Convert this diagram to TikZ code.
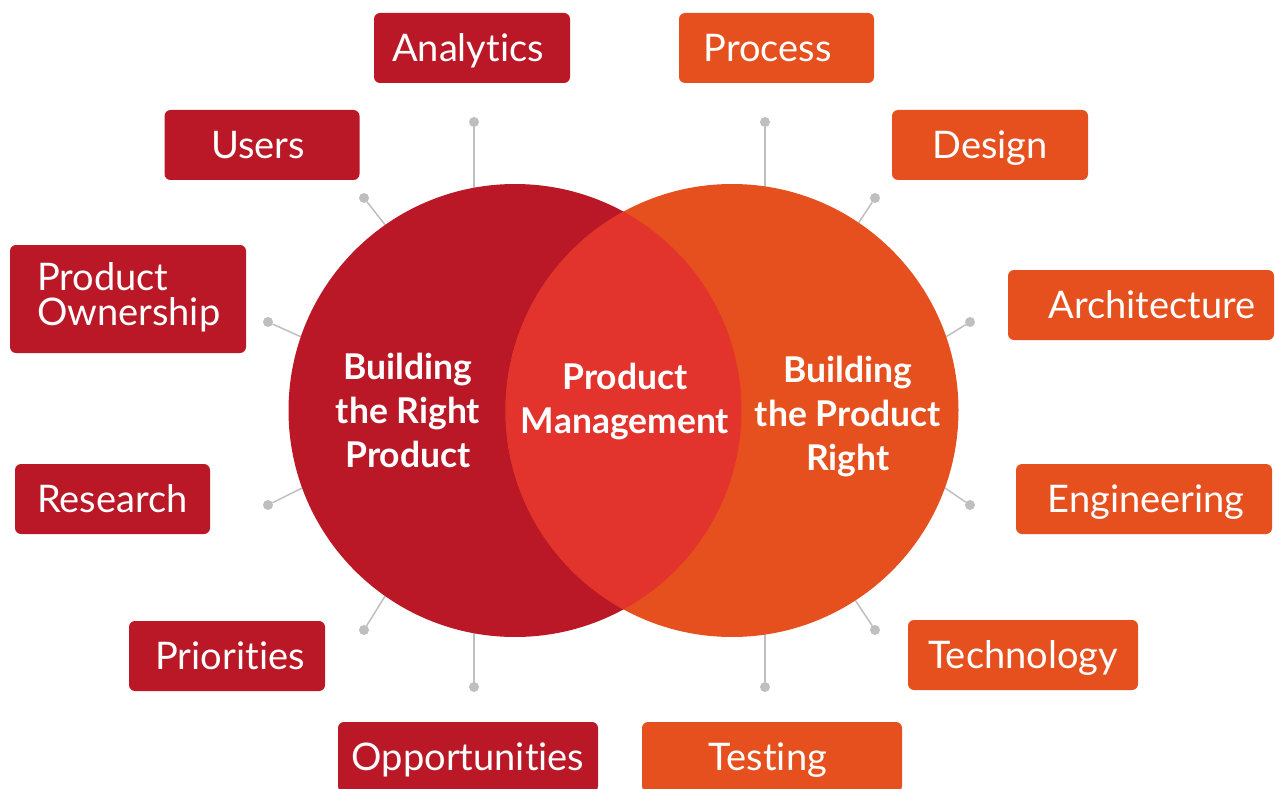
\documentclass[tikz,border=0pt]{standalone}
\usepackage{fontspec}
\setmainfont{Lato}[Ligatures=NoCommon]
\definecolor{leftred}{HTML}{BA1826}
\definecolor{rightorange}{HTML}{E6501E}
\definecolor{overlapred}{HTML}{E2332C}
\definecolor{spokegray}{HTML}{BFBFBF}
\tikzset{
    every node/.style={inner sep=0pt, outer sep=0pt, text=white}
}
\tikzset{
    every edge/.append style={line width=1.5pt, draw=spokegray}
}
\tikzset{
    tag/.style={rectangle, rounded corners=6pt, minimum height=70pt,
    	font=\fontsize{38}{35}\selectfont, text height=27pt, text depth=0pt},
    disc/.style={circle, minimum size=453pt},
    hub/.style={align=center, font=\fontsize{35.5}{44}\selectfont\bfseries},
    dot/.style={circle, fill=spokegray, minimum size=10pt}
}

\begin{document}
\begin{tikzpicture}[x=1pt, y=-1pt]
  \useasboundingbox (0,0) rectangle (1275,789);

  \node (l1) [dot] at (474,122) {};
  \node (l2) [dot] at (364,198) {};
  \node (l3) [dot] at (268,322) {};
  \node (l4) [dot] at (268,505) {};
  \node (l5) [dot] at (364,630) {};
  \node (l6) [dot] at (474,687) {};
  \node (r1) [dot] at (765,122) {};
  \node (r2) [dot] at (875,198) {};
  \node (r3) [dot] at (970,322) {};
  \node (r4) [dot] at (970,505) {};
  \node (r5) [dot] at (875,630) {};
  \node (r6) [dot] at (765,687) {};

  \node (L) [disc] at (515,410.5) {};
  \node (R) [disc] at (732,410.5) {};

  \draw (l1) edge (l1 |- L.center);
  \draw (l2) edge (L.125.6);
  \draw (l3) edge (L.161.3);
  \draw (l4) edge (L.200.2);
  \draw (l5) edge (L.235.5);
  \draw (l6) edge (l6 |- L.center);
  \draw (r1) edge (r1 |- R.center);
  \draw (r2) edge (R.56.2);
  \draw (r3) edge (R.19.8);
  \draw (r4) edge (R.-20.9);
  \draw (r5) edge (R.-57.1);
  \draw (r6) edge (r6 |- R.center);

  \fill [leftred] (515,410.5) circle (226.5pt);
  \fill [rightorange] (732,410.5) circle (226.5pt);
  \begin{scope}
    \clip (515,410.5) circle (226.5pt);
    \fill [overlapred] (732,410.5) circle (226.5pt);
  \end{scope}

  \node (lt) [hub] at (408,410) {Building\\the Right\\Product};
  \node (ct) [hub] at (625,402) {Product\\Management};
  \node (rt) [hub] at (848,417) {Building\\the Product\\Right};

  \node (an) [tag, fill=leftred, minimum width=196pt] at (472,48) {\hspace*{-8pt}Analytics};
  \node (us) [tag, fill=leftred, minimum width=195pt] at (262,145) {\hspace*{-8pt}Users};
  \node (po) [tag, fill=leftred, minimum width=236pt, minimum height=108pt,
  	text width=182pt, align=left, text depth=45pt] at (128,299) {Product\\Ownership};
  \node (re) [tag, fill=leftred, minimum width=195pt] at (112.5,499) {Research};
  \node (pr) [tag, fill=leftred, minimum width=196pt] at (227,656) {\hspace*{6pt}Priorities};
  \node (op) [tag, fill=leftred, minimum width=260pt] at (468,757) {Opportunities};

  \node (pc) [tag, fill=rightorange, minimum width=195pt] at (776.5,48) {\hspace*{-18pt}Process};
  \node (de) [tag, fill=rightorange, minimum width=196pt] at (990,145) {Design};
  \node (ar) [tag, fill=rightorange, minimum width=266pt] at (1141,305) {\hspace*{22pt}Architecture};
  \node (en) [tag, fill=rightorange, minimum width=256pt] at (1144,499) {\hspace*{4pt}Engineering};
  \node (te) [tag, fill=rightorange, minimum width=230pt] at (1023,655) {Technology};
  \node (ts) [tag, fill=rightorange, minimum width=260pt] at (772,757) {\hspace*{-8pt}Testing};
\end{tikzpicture}
\end{document}
